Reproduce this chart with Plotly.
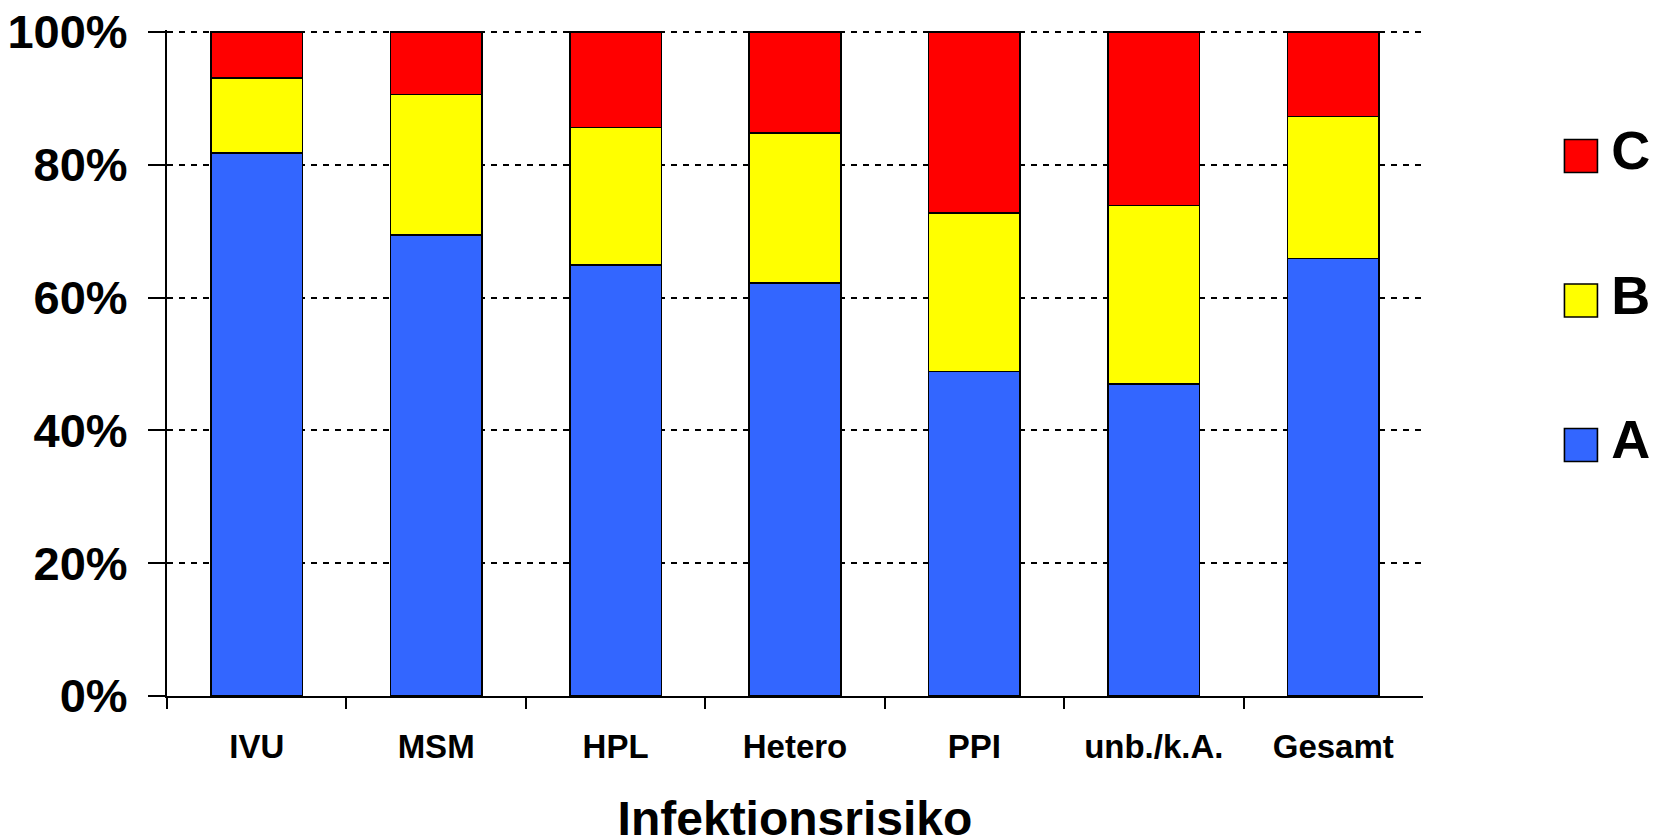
import plotly.graph_objects as go

categories = ["IVU", "MSM", "HPL", "Hetero", "PPI", "unb./k.A.", "Gesamt"]
series_names = ["A", "B", "C"]
values_A = [81.8, 69.4, 64.9, 62.2, 48.9, 47.0, 65.9]
values_B = [11.3, 21.2, 20.7, 22.6, 23.8, 26.9, 21.4]
values_C = [6.9, 9.4, 14.4, 15.2, 27.3, 26.1, 12.7]
colors = ["#3366FF", "#FFFF00", "#FF0000"]
y_ticks = [0, 20, 40, 60, 80, 100]
x_title = "Infektionsrisiko"

FONT = "Liberation Sans, Arial, sans-serif"

fig = go.Figure()
for name, vals, col in zip(series_names, [values_A, values_B, values_C], colors):
    fig.add_trace(go.Bar(
        x=categories, y=vals, name=name,
        marker=dict(color=col, line=dict(color="black", width=1.6)),
        showlegend=False, xaxis="x", yaxis="y",
    ))

# custom legend drawn on its own small axes (large square keys)
fig.add_trace(go.Scatter(
    x=[0] * len(series_names), y=list(range(len(series_names))),
    mode="markers",
    marker=dict(symbol="square", size=33, color=colors,
                line=dict(color="black", width=1.6)),
    showlegend=False, xaxis="x2", yaxis="y2", hoverinfo="skip", cliponaxis=False,
))
fig.add_trace(go.Scatter(
    x=[0.37] * len(series_names), y=list(range(len(series_names))),
    mode="text", text=series_names, textposition="middle right",
    textfont=dict(family=FONT, size=54, color="black", weight="bold"),
    showlegend=False, xaxis="x2", yaxis="y2", hoverinfo="skip", cliponaxis=False,
))

fig.update_layout(
    width=1654, height=837,
    margin=dict(l=159, r=0, t=22, b=149, autoexpand=False),
    paper_bgcolor="white", plot_bgcolor="white",
    barmode="stack", bargap=0.49,
    showlegend=False,
    font=dict(family=FONT, color="black"),
    xaxis=dict(
        domain=[0, 0.8401],
        type="category", automargin=False,
        showline=True, linecolor="black", linewidth=2,
        ticks="outside", tickson="boundaries", ticklen=11, tickwidth=1.5, tickcolor="black",
        tickfont=dict(family=FONT, size=33, color="black", weight="bold"),
        ticklabelstandoff=20,
        showgrid=False,
        title=dict(text=x_title, font=dict(family=FONT, size=48, color="black", weight="bold"), standoff=48),
    ),
    yaxis=dict(
        range=[0, 100.3], automargin=False,
        tickvals=y_ticks, ticktext=[f"{v}%" for v in y_ticks],
        ticklabeloverflow="allow",
        showline=True, linecolor="black", linewidth=2,
        ticks="outside", ticklen=17, tickwidth=2, tickcolor="black",
        tickfont=dict(family=FONT, size=47, color="black", weight="bold"),
        ticklabelstandoff=11,
        showgrid=True, gridcolor="black", gridwidth=2.2, griddash="6px,6px",
        zeroline=False,
    ),
    xaxis2=dict(domain=[0.9184, 1.0], range=[-0.5, 0.99], visible=False, fixedrange=True, anchor="y2"),
    yaxis2=dict(domain=[0.2684, 0.9193], range=[-0.5, 2.5], visible=False, fixedrange=True, anchor="x2"),
)

fig.write_html("out.html")
